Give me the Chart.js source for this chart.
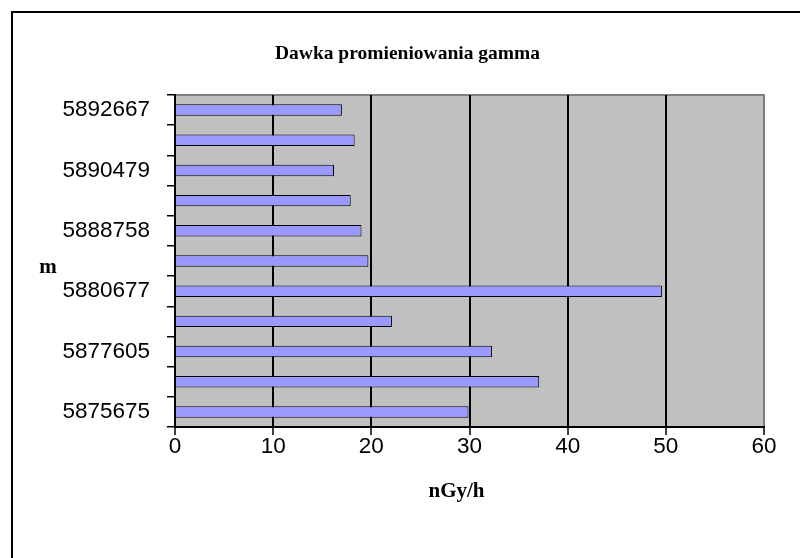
<!DOCTYPE html>
<html>
<head>
<meta charset="utf-8">
<script src="https://cdn.jsdelivr.net/npm/chart.js@4/dist/chart.umd.min.js"></script>
<style>
  html, body { margin: 0; padding: 0; background: #fff; }
  #wrap { width: 800px; height: 558px; }
</style>
</head>
<body>
<div id="wrap"><canvas id="c" width="800" height="558"></canvas></div>
<script>
// Northing positions (every second one is labelled), listed from the bottom bar upwards
const categories = ['5875675', '', '5877605', '', '5880677', '', '5888758', '', '5890479', '', '5892667'];
// Gamma dose rate at each position, nGy/h
const doseValues = [29.9, 37.1, 32.3, 22.1, 49.6, 19.7, 19.0, 17.9, 16.2, 18.3, 17.0];
// Value-axis ticks
const doseTicks = [0, 10, 20, 30, 40, 50, 60];

const chartTitle = 'Dawka promieniowania gamma';
const valueAxisTitle = 'nGy/h';
const categoryAxisTitle = 'm';

const serifBold = 'bold 21px "Liberation Serif", "Times New Roman", serif';
const tickFont = { family: '"Liberation Sans", Arial, sans-serif', size: 22.5, lineHeight: 1 };

// Page frame, grey plot area and the two axis captions
const chartFrame = {
  id: 'chartFrame',
  beforeDraw(chart) {
    const { ctx, chartArea: a, width, height } = chart;
    ctx.save();
    ctx.fillStyle = '#ffffff';
    ctx.fillRect(0, 0, width, height);
    ctx.strokeStyle = '#000';
    ctx.lineWidth = 2;
    ctx.beginPath();
    ctx.moveTo(12, height + 2);
    ctx.lineTo(12, 12);
    ctx.lineTo(width + 2, 12);
    ctx.stroke();
    ctx.fillStyle = '#c0c0c0';
    ctx.fillRect(a.left, a.top, a.right - a.left, a.bottom - a.top);
    ctx.strokeStyle = '#808080';
    ctx.lineWidth = 2;
    ctx.strokeRect(a.left, a.top, a.right - a.left, a.bottom - a.top);
    ctx.restore();
  },
  afterDraw(chart) {
    const { ctx, chartArea: a } = chart;
    ctx.save();
    ctx.fillStyle = '#000';
    ctx.font = serifBold;
    ctx.textAlign = 'center';
    ctx.textBaseline = 'middle';
    ctx.fillText(categoryAxisTitle, a.left - 127, (a.top + a.bottom) / 2 + 7);
    ctx.fillText(valueAxisTitle, (a.left + a.right) / 2 - 13, a.bottom + 65);
    ctx.restore();
  }
};

new Chart(document.getElementById('c'), {
  type: 'bar',
  data: {
    labels: categories,
    datasets: [{
      label: valueAxisTitle,
      data: doseValues,
      backgroundColor: '#9999ff',
      borderColor: '#000000',
      borderWidth: 1,
      barPercentage: 0.38,
      categoryPercentage: 1
    }]
  },
  options: {
    indexAxis: 'y',
    responsive: false,
    devicePixelRatio: 1,
    animation: false,
    layout: { padding: { left: 15, right: 0, top: 0, bottom: 0 } },
    plugins: {
      legend: { display: false },
      tooltip: { enabled: false },
      title: {
        display: true,
        text: chartTitle,
        color: '#000',
        font: { family: '"Liberation Serif", "Times New Roman", serif', weight: 'bold', size: 19.5 },
        padding: { top: 42, bottom: 29.6 }
      }
    },
    scales: {
      y: {
        reverse: true,
        grid: {
          display: true,
          offset: true,
          drawOnChartArea: false,
          drawTicks: true,
          tickLength: 8,
          tickColor: '#000',
          lineWidth: 1.5
        },
        border: { display: true, color: '#000', width: 2 },
        ticks: { autoSkip: false, color: '#000', font: tickFont, padding: 17 },
        afterFit(scale) { scale.width = 160; }
      },
      x: {
        min: doseTicks[0],
        max: doseTicks[doseTicks.length - 1],
        afterBuildTicks(scale) { scale.ticks = doseTicks.map(v => ({ value: v })); },
        grid: {
          color: c => (c.tick && c.tick.value === doseTicks[doseTicks.length - 1]) ? '#808080' : '#000',
          lineWidth: 2,
          drawTicks: true,
          tickLength: 8,
          tickColor: '#000',
          tickWidth: 1.5
        },
        border: { display: true, color: '#000', width: 2 },
        ticks: { color: '#000', font: tickFont, padding: 1, maxRotation: 0 },
        afterFit(scale) { scale.height = 131; scale.paddingRight = 36; }
      }
    }
  },
  plugins: [chartFrame]
});
</script>
</body>
</html>
